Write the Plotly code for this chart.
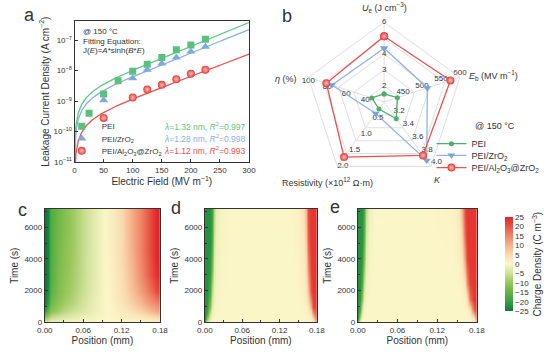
import numpy as np
import plotly.graph_objects as go

W, H = 553, 354
def px(x): return x / W
def py(y): return 1 - y / H

FONT = "Liberation Sans, Arial, sans-serif"
INK = "#333333"

# ---------------- panel a : leakage current ----------------
field_pei = [25, 50, 75, 100, 125, 150, 175, 200, 225]
j_pei = [4.0e-10, 1.7e-9, 4.6e-9, 9.6e-9, 1.6e-8, 2.7e-8, 4.8e-8, 6.9e-8, 1.07e-7]
field_zro = [50, 100, 125, 150, 175, 200, 225]
j_zro = [1.07e-9, 5.6e-9, 1.07e-8, 1.7e-8, 2.7e-8, 4.2e-8, 6.1e-8]
field_azo = [50, 100, 125, 150, 175, 200, 225]
j_azo = [2.8e-10, 1.3e-9, 2.4e-9, 3.4e-9, 5.2e-9, 7.9e-9, 1.07e-8]

# fitted parameters of J(E) = A*sinh(B*E)
fit_A = [3.47e-9, 2.23e-9, 4.5e-10]
fit_B = [0.01796, 0.01762, 0.0168]
fit_text = ["<i>λ</i>=1.32 nm, <i>R</i><sup>2</sup>=0.997",
            "<i>λ</i>=1.28 nm, <i>R</i><sup>2</sup>=0.998",
            "<i>λ</i>=1.12 nm, <i>R</i><sup>2</sup>=0.993"]

names = ["PEI", "PEI/ZrO<sub>2</sub>", "PEI/Al<sub>2</sub>O<sub>3</sub>@ZrO<sub>2</sub>"]
c_mark = ["#5cbf7c", "#7ea9de", "#ec4b4b"]
c_line = ["#5cc87e", "#86b3e6", "#f0504e"]

# ---------------- panel b : radar ----------------
radar_axes = ["Ue", "Eb", "K", "Res", "eta"]
radar_min = [1.0, 400.0, 3.0, 0.0, 20.0]
radar_max = [6.0, 600.0, 4.0, 2.0, 100.0]
radar_pei = [1.5, 435, 3.26, 0.22, 33]
radar_zro = [4.37, 514, 3.91, 0.36, 75]
radar_azo = [5.12, 575, 3.83, 1.71, 81]
radar_ticks = {
    "Ue": [2, 3, 4, 5, 6],
    "Eb": [450, 500, 550, 600],
    "K": [3.2, 3.4, 3.6, 3.8, 4.0],
    "Res": [0.5, 1.0, 1.5, 2.0],
    "eta": [40, 60, 80, 100],
}
radar_ticktext = {
    "Ue": ["2", "3", "4", "5", "6"],
    "Eb": ["450", "500", "550", "600"],
    "K": ["3.2", "3.4", "3.6", "3.8", "4.0"],
    "Res": ["0.5", "1.0", "1.5", "2.0"],
    "eta": ["40", "60", "80", "100"],
}
radar_tickpos = {"Ue": "middle center", "Eb": "top center", "K": "top right",
                 "Res": "middle right", "eta": "bottom center"}

# ---------------- panels c, d, e : charge density maps ----------------
cs_levels = [-25, 25]
# panel c
xc = [0, 0.004, 0.01, 0.02, 0.03, 0.045, 0.06, 0.075, 0.09, 0.105, 0.12, 0.135, 0.15, 0.165, 0.175, 0.18]
tc = [0, 300, 700, 1200, 2000, 3000, 4500, 6000, 7200]
zc = [
    [-4, -3, -1.5, -1, -0.5, 0, 0, 0, 0, 0, 0, 0.2, 0.5, 1, 1.5, 2],
    [-10, -8, -5, -4, -3, -2, -1.2, -0.5, 0, 0, 0.6, 1.2, 2, 3, 4, 5],
    [-20, -16, -11, -9, -7, -5, -3.5, -1.8, -0.5, 0.4, 2, 3.5, 6, 9, 11, 12],
    [-24, -21, -14, -11, -9, -7, -4.5, -2.2, -0.5, 0.8, 3, 6, 9, 13, 15, 16],
    [-25, -23, -16, -12.5, -10.5, -8, -5.5, -2.7, -0.5, 1, 4, 7.5, 12, 17, 21, 22],
    [-25, -24, -16.5, -13, -11, -8.5, -5.8, -3, -0.5, 1.2, 4.5, 8.5, 14, 20, 24, 25],
    [-25, -24, -17, -13.5, -11.5, -9, -6, -3, -0.5, 1.4, 5, 9.5, 15, 21, 25, 25],
    [-25, -24, -17, -14, -12, -9, -6, -3, -0.5, 1.5, 5, 10, 15, 21, 25, 25],
    [-25, -24, -17, -14, -12, -9, -6, -3, -0.5, 1.5, 5, 10, 15, 21, 25, 25],
]
# panel d
xd = [0, 0.004, 0.008, 0.011, 0.014, 0.018, 0.025, 0.04, 0.09, 0.14, 0.15, 0.157, 0.162, 0.166, 0.170, 0.174, 0.18]
td = [0, 200, 500, 1000, 2000, 3500, 5000, 7200]
zd = [
    [-18, -2, -0.5, 0, 0, 0, 0, 0, 0, 0, 0, 0, 0, 0, 0, 1, 12],
    [-22, -10, -2, -0.5, 0, 0, 0, 0, 0, 0, 0, 0, 0, 0.3, 1, 4, 20],
    [-22, -18, -5, -1.5, -0.5, 0, 0, 0, 0, 0, 0, 0, 0.3, 1, 3, 12, 22],
    [-22, -21, -12, -3, -1, -0.3, 0, 0, 0, 0, 0, 0.3, 1, 2.5, 10, 21, 23],
    [-22, -22, -19, -7, -2, -0.7, -0.2, 0, 0, 0, 0.3, 1, 2.5, 8, 20, 23, 23],
    [-22, -22, -21, -14, -3, -1, -0.3, 0, 0, 0, 0.5, 1.5, 4, 14, 22, 23, 23],
    [-22, -22, -22, -18, -5, -1.5, -0.4, 0, 0, 0.1, 0.7, 2, 6, 18, 23, 23, 23],
    [-22, -22, -22, -20, -8, -2, -0.5, -0.1, 0, 0.2, 1, 3, 9, 21, 23, 23, 23],
]
# panel e
xe = [0, 0.003, 0.006, 0.009, 0.012, 0.016, 0.025, 0.09, 0.145, 0.152, 0.157, 0.161, 0.165, 0.170, 0.175, 0.18]
te = [0, 300, 800, 1500, 2500, 4000, 5500, 7200]
ze = [
    [-15, -1, 0, 0, 0, 0, 0, 0, 0, 0, 0, 0, 0, 0, 0.5, 10],
    [-22, -8, -1, 0, 0, 0, 0, 0, 0, 0, 0, 0, 0, 0.5, 3, 21],
    [-22, -18, -4, -0.5, 0, 0, 0, 0, 0, 0, 0, 0.2, 0.7, 3, 18, 23],
    [-22, -21, -12, -2, -0.5, 0, 0, 0, 0, 0, 0.3, 0.8, 3, 17, 23, 23],
    [-22, -22, -18, -6, -1, -0.3, 0, 0, 0, 0.3, 1, 3.5, 14, 22, 23, 23],
    [-22, -22, -21, -13, -2.5, -0.6, 0, 0, 0.2, 1, 3, 12, 21, 23, 23, 23],
    [-22, -22, -22, -17, -4, -1, 0, 0, 0.4, 1.5, 6, 18, 23, 23, 23, 23],
    [-22, -22, -22, -19, -7, -1.5, -0.2, 0, 0.6, 2.5, 10, 21, 23, 23, 23, 23],
]

colorscale = [[0.0, "#0d7a3a"], [0.1, "#36a046"], [0.2, "#66b444"], [0.3, "#97c65a"],
              [0.4, "#cfe198"], [0.5, "#fbf6c8"], [0.6, "#f9dab0"], [0.7, "#f5b08c"],
              [0.8, "#f08466"], [0.9, "#ea5242"], [1.0, "#e42327"]]

fig = go.Figure()

# ---- panel a traces
symbols = ["square", "triangle-up", "circle"]
fields = [field_pei, field_zro, field_azo]
js = [j_pei, j_zro, j_azo]
E = np.linspace(0.2, 300, 600)
for i in range(3):
    fig.add_trace(go.Scatter(x=E, y=fit_A[i] * np.sinh(fit_B[i] * E), mode="lines",
                             line=dict(color=c_line[i], width=1.3), showlegend=False,
                             xaxis="x", yaxis="y", hoverinfo="skip"))
legend_a = ["legend", "legend3", "legend4"]
for i in range(3):
    mk = dict(symbol=symbols[i], color=c_mark[i], size=7 if i == 0 else 8, line=dict(width=0))
    if i == 2:
        mk = dict(symbol="circle", color="#e53935", size=8,
                  gradient=dict(type="radial", color="#ffc4c4"), line=dict(width=0))
    fig.add_trace(go.Scatter(x=fields[i], y=js[i], mode="markers", marker=mk, name=names[i],
                             xaxis="x", yaxis="y", legend=legend_a[i]))

# ---- panel b traces
def norm(vals):
    return [(v - lo) / (hi - lo) for v, lo, hi in zip(vals, radar_min, radar_max)]

for k, ax in enumerate(radar_axes):
    lo, hi = radar_min[k], radar_max[k]
    fig.add_trace(go.Scatterpolar(
        r=[(v - lo) / (hi - lo) for v in radar_ticks[ax]], theta=[ax] * len(radar_ticks[ax]),
        mode="text", text=radar_ticktext[ax], textposition=radar_tickpos[ax],
        textfont=dict(family=FONT, size=8, color=INK), showlegend=False, hoverinfo="skip",
        subplot="polar"))

r_series = [radar_pei, radar_zro, radar_azo]
r_line = ["#4caf6a", "#8fb4e3", "#ef4f4f"]
r_marker = [dict(symbol="circle", size=5, color="#4caf6a"),
            dict(symbol="triangle-down", size=7, color="#7aa3dc"),
            dict(symbol="circle", size=8, color="#e53935",
                 gradient=dict(type="radial", color="#ffc4c4"))]
legend_b = ["legend2", "legend5", "legend6"]
for i in range(3):
    rr = norm(r_series[i])
    fig.add_trace(go.Scatterpolar(r=rr + [rr[0]], theta=radar_axes + [radar_axes[0]],
                                  mode="lines+markers", line=dict(color=r_line[i], width=1.3),
                                  marker=r_marker[i], name=names[i], legend=legend_b[i],
                                  subplot="polar"))

# ---- panels c, d, e
maps = [(xc, tc, zc, "x2", "y2"), (xd, td, zd, "x3", "y3"), (xe, te, ze, "x4", "y4")]
for xx, tt, zz, xa, ya in maps:
    fig.add_trace(go.Heatmap(x=xx, y=tt, z=zz, zsmooth="best", coloraxis="coloraxis",
                             xaxis=xa, yaxis=ya, hoverinfo="skip"))

axis_common = dict(showline=True, mirror=True, linecolor=INK, linewidth=1, ticks="inside",
                   ticklen=3, tickcolor=INK, tickfont=dict(family=FONT, size=8, color=INK),
                   showgrid=False, zeroline=False)

title_font = dict(family=FONT, size=10, color=INK)

def one_legend(x, y, size):
    return dict(x=px(x), y=py(y), xanchor="left", yanchor="middle",
                font=dict(family=FONT, size=size, color=INK), bgcolor="rgba(0,0,0,0)",
                tracegroupgap=0, itemwidth=30, borderwidth=0)

layout = dict(
    width=W, height=H, autosize=False, margin=dict(l=0, r=0, t=0, b=0),
    paper_bgcolor="white", plot_bgcolor="white",
    font=dict(family=FONT, color=INK),
    xaxis=dict(domain=[px(69.3), px(251)], anchor="y", range=[0, 300],
               tickvals=[0, 50, 100, 150, 200, 250, 300],
               title=dict(text="Electric Field (MV m<sup>−1</sup>)", font=title_font, standoff=4),
               **axis_common),
    yaxis=dict(domain=[py(164.3), py(21.7)], anchor="x", type="log", range=[-11, -6.385],
               tickvals=[1e-11, 1e-10, 1e-9, 1e-8, 1e-7],
               ticktext=["10<sup>−11</sup>", "10<sup>−10</sup>", "10<sup>−9</sup>",
                         "10<sup>−8</sup>", "10<sup>−7</sup>"],
               title=dict(text="Leakage Current Density (A cm<sup>−2</sup>)", font=title_font,
                          standoff=2),
               **axis_common),
    coloraxis=dict(cmin=cs_levels[0], cmax=cs_levels[1], colorscale=colorscale,
                   colorbar=dict(x=px(506.7), xanchor="left", y=py(268), yanchor="middle",
                                 len=116 / H, lenmode="fraction", thickness=8,
                                 outlinewidth=0, tickvals=list(range(-25, 26, 5)),
                                 ticks="", tickfont=dict(family=FONT, size=8, color=INK),
                                 title=dict(text="Charge Density (C m<sup>−3</sup>)",
                                            side="right", font=title_font))),
    polar=dict(domain=dict(x=[px(308.7), px(474.7)], y=[py(186.4), py(20.4)]),
               bgcolor="white", gridshape="linear",
               radialaxis=dict(range=[0, 1], tickvals=[0.2, 0.4, 0.6, 0.8, 1.0],
                               showticklabels=False, ticks="", showline=False,
                               gridcolor="#e0e0e0", gridwidth=0.8),
               angularaxis=dict(rotation=90, direction="clockwise", showticklabels=False,
                                ticks="", gridcolor="#e0e0e0", linecolor="#d6d6d6",
                                linewidth=0.8)),
    legend=one_legend(56, 128, 8),
    legend3=one_legend(56, 140.5, 8),
    legend4=one_legend(56, 153, 8),
    legend2=one_legend(441, 145.7, 9),
    legend5=one_legend(441, 157.5, 9),
    legend6=one_legend(441, 170, 9),
)

hm_dom_x = [[px(38.3), px(158.3)], [px(205), px(321.7)], [px(364.3), px(488.3)]]
for n, dom in zip([2, 3, 4], hm_dom_x):
    layout[f"xaxis{n}"] = dict(domain=dom, anchor=f"y{n}", range=[0, 0.18],
                               tickvals=[0, 0.06, 0.12, 0.18],
                               ticktext=["0.00", "0.06", "0.12", "0.18"],
                               minor=dict(dtick=0.03, ticks="inside", ticklen=2, tickcolor=INK),
                               title=dict(text="Position (mm)", font=title_font, standoff=3),
                               **axis_common)
    layout[f"yaxis{n}"] = dict(domain=[py(327), py(212)], anchor=f"x{n}", range=[0, 7150],
                               tickvals=[0, 2000, 4000, 6000],
                               minor=dict(dtick=1000, ticks="inside", ticklen=2, tickcolor=INK),
                               title=dict(text="Time (s)", font=title_font, standoff=3),
                               **axis_common)

fig.update_layout(**layout)

ann = []
def add(text, x, y, size=8, xanchor="center", color=INK, **kw):
    ann.append(dict(text=text, x=px(x), y=py(y), xref="paper", yref="paper", showarrow=False,
                    xanchor=xanchor, yanchor="middle",
                    font=dict(family=FONT, size=size, color=color), **kw))

for letter, x, y in [("a", 22, 15), ("b", 291, 16), ("c", 15, 213), ("d", 175, 211), ("e", 341, 210)]:
    add(letter, x, y, size=18)

add("@ 150 °C", 76, 32, xanchor="left")
add("Fitting Equation:", 76, 41.7, xanchor="left")
add("J(<i>E</i>)=<i>A</i>*sinh(<i>B</i>*<i>E</i>)", 76, 51.7, xanchor="left")
for i, yy in enumerate([128, 140.5, 153]):
    add(fit_text[i], 250, yy, size=8.5, xanchor="right", color=c_line[i])

add("<i>U</i><sub>e</sub> (J cm<sup>−3</sup>)", 392, 8, size=9)
add("<i>E</i><sub>b</sub> (MV m<sup>−1</sup>)", 506, 77, size=9)
add("<i>K</i>", 447, 183, size=9)
add("Resistivity (×10<sup>12</sup> Ω·m)", 333, 185, size=9)
add("<i>η</i> (%)", 289, 80, size=9)
add("@ 150 °C", 484, 128, size=9, xanchor="left")

fig.update_layout(annotations=ann)
fig.write_html("out.html")
